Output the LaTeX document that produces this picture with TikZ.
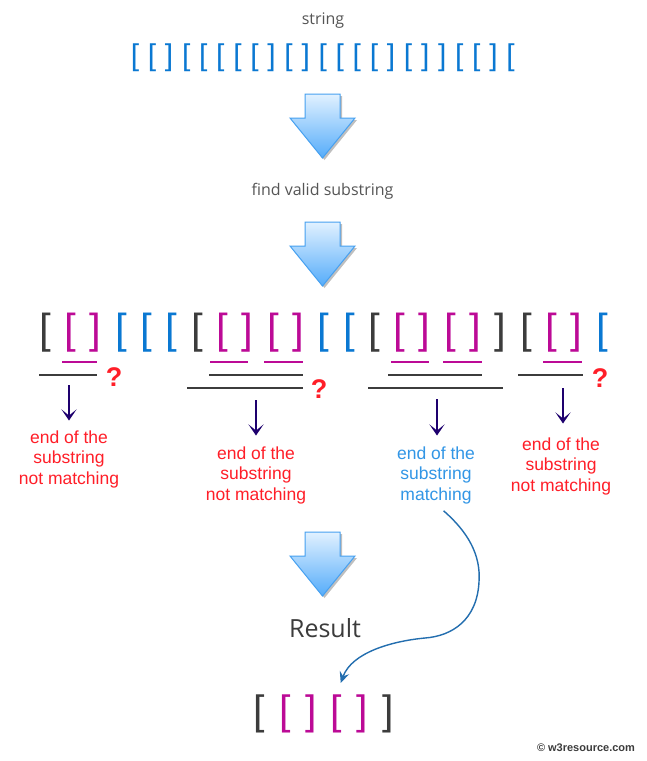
\documentclass[tikz,border=0pt]{standalone}
\usepackage{fontspec}
\setmainfont{Liberation Sans}
\newfontfamily\osans{Open Sans}
\usetikzlibrary{arrows.meta,shadows}
\definecolor{bl}{RGB}{10,120,210}
\definecolor{mg}{RGB}{188,10,150}
\definecolor{dk}{RGB}{60,60,60}
\definecolor{redq}{RGB}{255,30,40}
\definecolor{lblue}{RGB}{50,150,230}
\definecolor{navy}{RGB}{30,0,110}
\definecolor{curveblue}{RGB}{35,110,175}
\definecolor{captiongray}{RGB}{85,85,85}
\definecolor{arrtop}{RGB}{225,241,255}
\definecolor{arrbot}{RGB}{85,172,250}
\definecolor{arredge}{RGB}{70,160,240}
\newcommand\bkL{[}
\newcommand\bkR{]}
\newcommand\bigarrow[1]{%
  \shadedraw[bigarr] (305,#1) -- (340,#1) -- (340,#1+24) -- (355,#1+24) -- (322.5,#1+64) -- (290,#1+24) -- (305,#1+24) -- cycle;}
\tikzset{
  bigarr/.style={top color=arrtop, bottom color=arrbot, draw=arredge, line width=1pt, line join=miter,
    drop shadow={shadow xshift=2pt, shadow yshift=-2pt, opacity=0.25, fill=black}},
  topbk/.style={font=\fontsize{30}{30}\selectfont, text=bl, inner sep=0pt, anchor=base},
  midbk/.style={font=\fontsize{42}{42}\selectfont, inner sep=0pt, anchor=base},
  caption/.style={font=\osans\fontsize{16}{16}\selectfont, text=captiongray, inner sep=0pt, anchor=base},
  mgline/.style={draw=mg, line width=2pt},
  dkline/.style={draw=dk, line width=2pt},
  qmark/.style={font=\bfseries\fontsize{27}{27}\selectfont, text=redq, inner sep=0pt},
  lbl/.style={font=\fontsize{17.5}{20.5}\selectfont, align=center, inner sep=0pt, anchor=north},
  downarr/.style={draw=navy, line width=1.8pt, -{Stealth[length=11pt,width=15pt,inset=6pt]}},
}
\begin{document}
\begin{tikzpicture}[x=1pt,y=-1pt]
\useasboundingbox[fill=white] (0,0) rectangle (647,761);

% top string
\node[caption] (cap1) at (323,24) {string};
\foreach \c [count=\i] in {\bkL,\bkL,\bkR,\bkL,\bkL,\bkL,\bkL,\bkL,\bkR,\bkL,\bkR,\bkL,\bkL,\bkL,\bkL,\bkR,\bkL,\bkR,\bkR,\bkL,\bkL,\bkR,\bkL}
  \node[topbk] (t\i) at ({135+(\i-1)*17.07},65.5) {\c};

\bigarrow{94}
\node[caption] (cap2) at (322.5,195) {find valid substring};
\bigarrow{222}

% middle row
\foreach \c/\col [count=\i] in {\bkL/dk,\bkL/mg,\bkR/mg,\bkL/bl,\bkL/bl,\bkL/bl,\bkL/dk,\bkL/mg,\bkR/mg,\bkL/mg,\bkR/mg,\bkL/bl,\bkL/bl,\bkL/dk,\bkL/mg,\bkR/mg,\bkL/mg,\bkR/mg,\bkR/dk,\bkL/dk,\bkL/mg,\bkR/mg,\bkL/bl}
  \node[midbk, text=\col] (m\i) at ({45+(\i-1)*25.32},343) {\c};

% group 1
\draw[mgline] (62,362) -- (97,362);
\draw[dkline] (39,375) -- (97,375);
\node[qmark] (q1) at (114,377) {?};
% group 2
\draw[mgline] (210,362) -- (248,362);
\draw[mgline] (264,362) -- (303,362);
\draw[dkline] (209,375) -- (303,375);
\draw[dkline] (187,388) -- (303,388);
\node[qmark] (q2) at (319,389) {?};
% group 3
\draw[mgline] (391,362) -- (429,362);
\draw[mgline] (443,362) -- (482,362);
\draw[dkline] (388,375) -- (482,375);
\draw[dkline] (368,388) -- (503,388);
% group 4
\draw[mgline] (543,362) -- (582,362);
\draw[dkline] (518,375) -- (583,375);
\node[qmark] (q4) at (600,378) {?};

% labels
\node[lbl, text=redq] (l1) at (69,430.5) {end of the\\substring\\not matching};
\node[lbl, text=redq] (l2) at (256,446.5) {end of the\\substring\\not matching};
\node[lbl, text=lblue] (l3) at (436,446.5) {end of the\\substring\\matching};
\node[lbl, text=redq] (l4) at (561,437.5) {end of the\\substring\\not matching};

\coordinate (a1) at (69,385);
\coordinate (a2) at (256,400);
\coordinate (a3) at (437,399);
\coordinate (a4) at (563,388);
\draw[downarr, shorten >=10pt] (a1) -- (a1 |- l1.north);
\draw[downarr, shorten >=11pt] (a2) -- (a2 |- l2.north);
\draw[downarr, shorten >=11pt] (a3) -- (a3 |- l3.north);
\draw[downarr, shorten >=14pt] (a4) -- (a4 |- l4.north);

\bigarrow{532}
\node[font=\osans\fontsize{25}{25}\selectfont, text=dk, inner sep=0pt, anchor=base] (res) at (325,637) {Result};

% result
\foreach \c/\col [count=\i] in {\bkL/dk,\bkL/mg,\bkR/mg,\bkL/mg,\bkR/mg,\bkR/dk}
  \node[font=\fontsize{41}{41}\selectfont, inner sep=0pt, anchor=base, text=\col] (r\i) at ({259.5+(\i-1)*25.7},724) {\c};

\draw[curveblue, line width=1.4pt, -{Stealth[length=11pt,width=10pt,inset=4pt]}, shorten <=10pt, shorten >=12pt]
  (l3.south) .. controls (468,532) and (481,555) .. (479,582)
  .. controls (477,620) and (452,636) .. (425,638)
  .. controls (393,641) and (352,652) .. (r4.north);

\node[font=\bfseries\fontsize{11}{11}\selectfont, text=dk, inner sep=0pt] (wm) at (586,748) {© w3resource.com};
\end{tikzpicture}
\end{document}
